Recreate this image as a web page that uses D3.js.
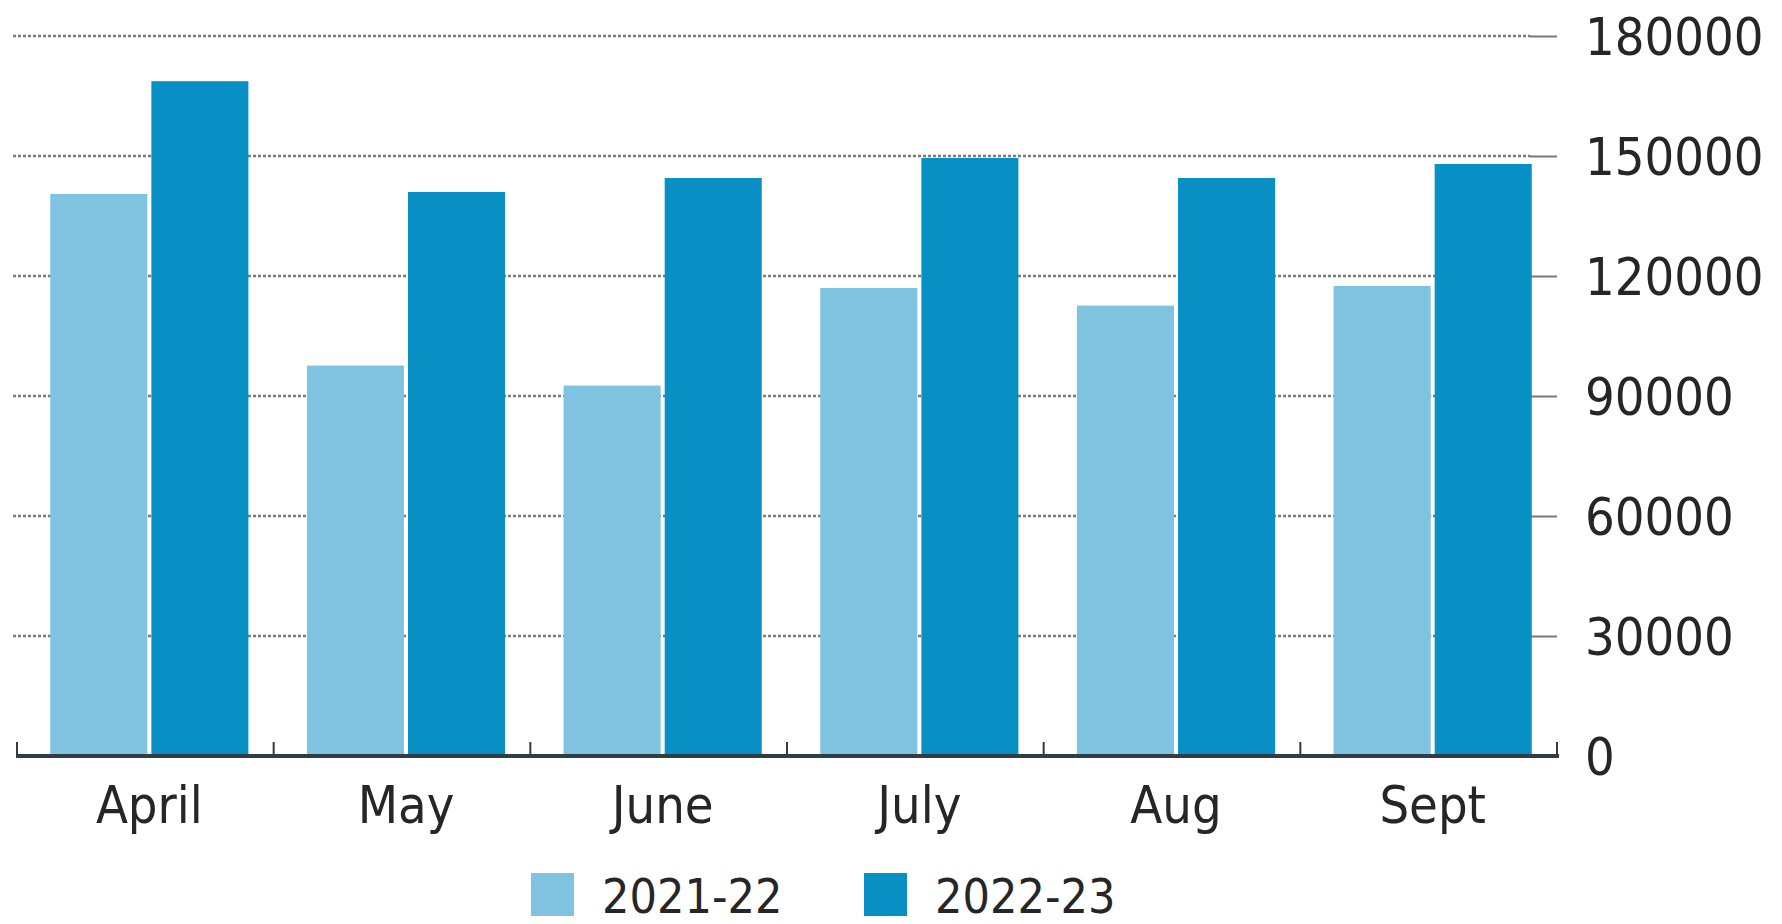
<!DOCTYPE html>
<html>
<head>
<meta charset="utf-8">
<script src="https://cdn.jsdelivr.net/npm/d3@7"></script>
<style>
  html, body { margin: 0; padding: 0; background: #fff; }
  svg { display: block; }
  text { font-family: "DejaVu Sans Condensed", "DejaVu Sans", sans-serif; fill: #262626; }
</style>
</head>
<body>
<svg id="chart" width="1782" height="924"></svg>
<script>
// values
var months = ["April", "May", "June", "July", "Aug", "Sept"];
var seriesNames = ["2021-22", "2022-23"];
var values2122 = [140500, 97600, 92600, 117000, 112600, 117500];
var values2223 = [168700, 141000, 144500, 149500, 144500, 148000];
var yTicks = [0, 30000, 60000, 90000, 120000, 150000, 180000];
var colors = ["#80c3e0", "#0890c5"];

var svg = d3.select("#chart");
var fontSize = 52;

var y = d3.scaleLinear().domain([0, 180000]).range([756, 36]);

// band boundaries of the axis (tick marks)
var axisX = d3.scaleBand().domain(months).range([17, 1557]);

// bar groups sit slightly right of the tick bands
var x0 = d3.scaleBand().domain(months).range([21, 1561])
  .paddingInner(0.228).paddingOuter(0.114);
var x1 = d3.scaleBand().domain(seriesNames).range([0, x0.bandwidth()])
  .paddingInner(0.04);

var table = months.map(function (m, i) {
  return { month: m, vals: [
    { s: seriesNames[0], v: values2122[i] },
    { s: seriesNames[1], v: values2223[i] }
  ]};
});

// dotted grid
svg.append("g").selectAll("line")
  .data(yTicks.filter(function (t) { return t > 0; }))
  .enter().append("line")
  .attr("x1", 13).attr("x2", 1530)
  .attr("y1", function (d) { return y(d); })
  .attr("y2", function (d) { return y(d); })
  .attr("stroke", "#7a7a7a")
  .attr("stroke-width", 2.5)
  .attr("stroke-dasharray", "3,2");

// y axis on the right
var yAxis = d3.axisRight(y).tickValues(yTicks).tickSize(27).tickPadding(28)
  .tickFormat(d3.format("d"));
var gy = svg.append("g").attr("transform", "translate(1530,0)").call(yAxis);
gy.select(".domain").remove();
gy.selectAll(".tick line").attr("stroke", "#777").attr("stroke-width", 2);
gy.selectAll(".tick text")
  .attr("font-size", fontSize)
  .attr("font-family", "DejaVu Sans Condensed")
  .attr("fill", "#262626")
  .attr("dy", "0.36em");

// bars
var groups = svg.append("g").selectAll("g")
  .data(table)
  .enter().append("g")
  .attr("transform", function (d) { return "translate(" + x0(d.month) + ",0)"; });

groups.selectAll("rect")
  .data(function (d) { return d.vals; })
  .enter().append("rect")
  .attr("x", function (d) { return x1(d.s); })
  .attr("width", x1.bandwidth())
  .attr("y", function (d) { return y(d.v); })
  .attr("height", function (d) { return y(0) - y(d.v); })
  .attr("fill", function (d, i) { return colors[i]; });

// x axis line + upward ticks at band boundaries
var bounds = months.map(function (m) { return axisX(m); }).concat([axisX.range()[1]]);
svg.append("line")
  .attr("x1", axisX.range()[0] - 1).attr("x2", axisX.range()[1] + 2)
  .attr("y1", y(0)).attr("y2", y(0))
  .attr("stroke", "#2e3d46").attr("stroke-width", 4);
svg.append("g").selectAll("line")
  .data(bounds)
  .enter().append("line")
  .attr("x1", function (d) { return d; })
  .attr("x2", function (d) { return d; })
  .attr("y1", y(0)).attr("y2", y(0) - 14)
  .attr("stroke", "#3a3a3a").attr("stroke-width", 2);

// month labels
var xAxis = d3.axisBottom(x0).tickSize(0).tickPadding(30);
var gx = svg.append("g").attr("transform", "translate(0," + y(0) + ")").call(xAxis);
gx.select(".domain").remove();
gx.selectAll(".tick text")
  .attr("font-size", fontSize)
  .attr("font-family", "DejaVu Sans Condensed")
  .attr("fill", "#262626");

// legend
var legendX = [531, 864];
var legend = svg.append("g").selectAll("g")
  .data(seriesNames)
  .enter().append("g")
  .attr("transform", function (d, i) { return "translate(" + legendX[i] + ",873)"; });
legend.append("rect")
  .attr("width", 43).attr("height", 43)
  .attr("fill", function (d, i) { return colors[i]; });
legend.append("text")
  .attr("x", 71).attr("y", 40)
  .attr("font-size", 48)
  .text(function (d) { return d; });
</script>
</body>
</html>
